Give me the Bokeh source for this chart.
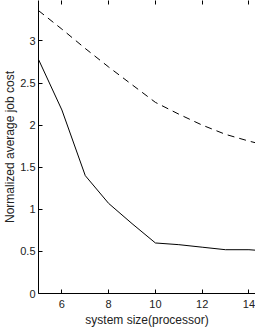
from bokeh.plotting import figure
from bokeh.models import FixedTicker, LinearAxis, CustomJSTickFormatter
from bokeh.embed import file_html
from bokeh.resources import INLINE

system_size = [5, 6, 7, 8, 9, 10, 11, 12, 13, 14, 15]
cost_solid = [2.78, 2.18, 1.40, 1.07, 0.83, 0.60, 0.58, 0.55, 0.52, 0.52, 0.50]
cost_dashed = [3.36, 3.14, 2.91, 2.69, 2.48, 2.27, 2.13, 2.00, 1.89, 1.81, 1.74]
x_ticks = [6, 8, 10, 12, 14]
y_ticks = [0, 0.5, 1, 1.5, 2, 2.5, 3, 3.5]

FONT = "Liberation Sans"

p = figure(width=255, height=330, x_range=(5, 14.28), y_range=(0, 3.48),
           output_backend="svg", toolbar_location=None,
           min_border_left=37, min_border_right=0, min_border_top=0, min_border_bottom=37,
           x_axis_label="system size(processor)", y_axis_label="Normalized average job cost")
p.grid.visible = False
p.outline_line_color = None
p.background_fill_color = "white"
p.border_fill_color = "white"

p.line(system_size, cost_dashed, line_color="black", line_width=1, line_dash="7 5")
p.line(system_size, cost_solid, line_color="black", line_width=1)

for ax in (p.xaxis[0], p.yaxis[0]):
    ax.major_tick_in = 4
    ax.major_tick_out = 0
    ax.minor_tick_line_color = None
    ax.axis_line_color = "black"
    ax.major_tick_line_color = "black"
    ax.major_label_text_font = FONT
    ax.major_label_text_font_size = "11px"
    ax.major_label_text_color = "#222222"
    ax.axis_label_text_font = FONT
    ax.axis_label_text_font_size = "12px"
    ax.axis_label_text_font_style = "normal"
    ax.axis_label_text_color = "#222222"

p.xaxis[0].ticker = FixedTicker(ticks=x_ticks)
p.yaxis[0].ticker = FixedTicker(ticks=y_ticks)
p.yaxis[0].formatter = CustomJSTickFormatter(code="return tick.toString();")
p.xaxis[0].major_label_standoff = 6
p.xaxis[0].axis_label_standoff = 2
p.yaxis[0].major_label_standoff = 3
p.yaxis[0].axis_label_standoff = 0

top = LinearAxis(ticker=FixedTicker(ticks=x_ticks),
                 major_label_text_font_size="11px", major_label_text_color=None,
                 major_label_standoff=0,
                 major_tick_in=4, major_tick_out=0, minor_tick_line_color=None,
                 axis_line_color=None, major_tick_line_color="black")
top.formatter = CustomJSTickFormatter(code="return '';")
p.add_layout(top, "above")

open("out.html", "w").write(file_html(p, INLINE))
